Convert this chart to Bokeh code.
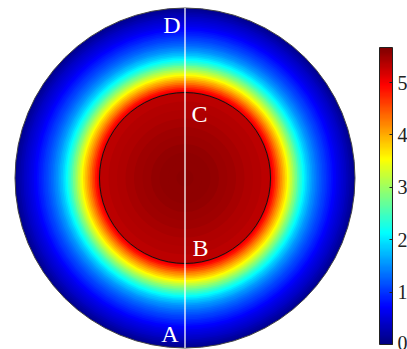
import numpy as np
from bokeh.plotting import figure
from bokeh.models import Range1d, LinearColorMapper, ColorBar, FixedTicker, ColumnDataSource
from bokeh.core.properties import value
from bokeh.embed import file_html
from bokeh.resources import INLINE

# radial profile (normalized radius, outer edge = 1) and field value
radius = [1.00, 0.99, 0.98, 0.97, 0.96, 0.95, 0.94, 0.93, 0.92, 0.91, 0.90, 0.89, 0.88,
          0.87, 0.86, 0.85, 0.84, 0.83, 0.82, 0.81, 0.80, 0.79, 0.78, 0.77, 0.76, 0.75,
          0.74, 0.73, 0.72, 0.71, 0.70, 0.69, 0.68, 0.67, 0.66, 0.65, 0.64, 0.63, 0.62,
          0.61, 0.60, 0.59, 0.58, 0.57, 0.56, 0.55, 0.54, 0.53, 0.52, 0.51,
          0.503, 0.45, 0.40, 0.35, 0.30, 0.25, 0.20, 0.15, 0.10, 0.05]
field = [0.10, 0.16, 0.22, 0.28, 0.33, 0.38, 0.43, 0.48, 0.52, 0.57, 0.62, 0.67, 0.73,
         0.79, 0.85, 0.90, 0.96, 1.02, 1.08, 1.14, 1.20, 1.27, 1.34, 1.42, 1.50, 1.59,
         1.69, 1.79, 1.90, 2.02, 2.15, 2.29, 2.43, 2.59, 2.75, 2.90, 3.06, 3.22, 3.38,
         3.54, 3.70, 3.87, 4.03, 4.18, 4.33, 4.50, 4.67, 4.83, 4.98, 5.15,
         5.32, 5.36, 5.40, 5.44, 5.48, 5.51, 5.54, 5.56, 5.58, 5.59]
inner_radius = 0.503
cbar_ticks = [0, 1, 2, 3, 4, 5]
cbar_low, cbar_high = 0.0, 5.67
point_labels = ["D", "C", "B", "A"]

# jet palette
def jet_hex(f):
    r = min(max(1.5 - abs(4 * f - 3), 0), 1)
    g = min(max(1.5 - abs(4 * f - 2), 0), 1)
    b = min(max(1.5 - abs(4 * f - 1), 0), 1)
    return "#%02x%02x%02x" % (int(r * 255), int(g * 255), int(b * 255))

jet = [jet_hex(i / 255) for i in range(256)]
mapper = LinearColorMapper(palette=jet, low=cbar_low, high=cbar_high)

R_PX = 170.0
CX, CY = 184.5, 177.5
W, H = 407, 349

p = figure(width=W, height=H, output_backend="svg", toolbar_location=None,
           x_range=Range1d(-CX / R_PX, (W - CX) / R_PX),
           y_range=Range1d((CY - H) / R_PX, CY / R_PX),
           min_border=0)
p.axis.visible = False
p.grid.visible = False
p.outline_line_color = None

src = ColumnDataSource(dict(x=[0.0] * len(radius), y=[0.0] * len(radius), r=radius, v=field))
p.circle(x="x", y="y", radius="r", source=src,
         fill_color={"field": "v", "transform": mapper}, line_color=None)

# outlines
p.circle(x=[0], y=[0], radius=[1.0], fill_color=None, line_color="#444444", line_width=1)
p.circle(x=[0], y=[0], radius=[inner_radius], fill_color=None, line_color="#111111", line_width=1)

# vertical white section line
p.segment(x0=[0], y0=[-1.0], x1=[0], y1=[1.0], line_color="white", line_alpha=0.85, line_width=1.5)

# labels (pixel positions converted)
lx = [(171.5 - CX) / R_PX, (199 - CX) / R_PX, (200 - CX) / R_PX, (169.5 - CX) / R_PX]
ly = [(CY - 24.5) / R_PX, (CY - 113) / R_PX, (CY - 247) / R_PX, (CY - 333) / R_PX]
p.text(x=lx, y=ly, text=point_labels, text_color="white",
       text_font=value("Liberation Serif"), text_font_size="24px",
       text_align="center", text_baseline="middle")

cb = ColorBar(color_mapper=mapper, location=(379, 5), width=13, height=297,
              padding=0, margin=0, ticker=FixedTicker(ticks=cbar_ticks),
              major_label_text_font="Liberation Serif", major_label_text_font_size="20px",
              major_label_text_color="#222222",
              label_standoff=5, major_tick_in=3, major_tick_out=0,
              major_tick_line_color="#222222",
              bar_line_color="#222222", bar_line_width=1,
              background_fill_alpha=0, border_line_color=None)
p.add_layout(cb)

open("out.html", "w").write(file_html(p, INLINE))
